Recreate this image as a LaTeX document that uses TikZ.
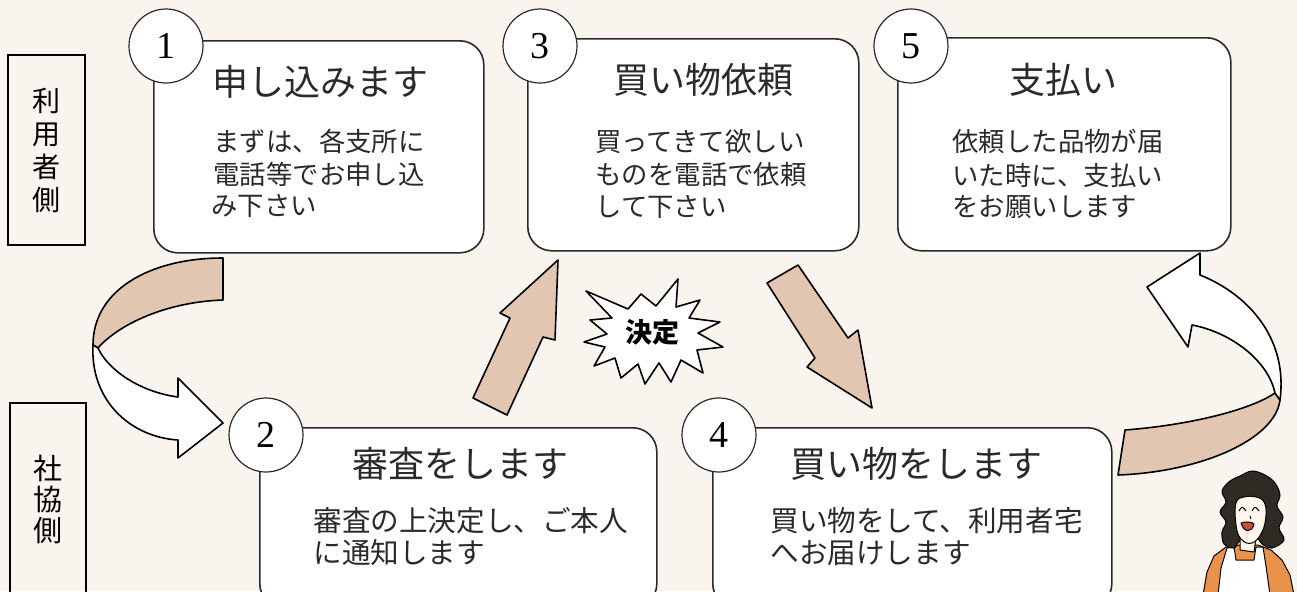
\documentclass[tikz,border=0pt]{standalone}
\usepackage{fontspec}
\newfontfamily\jp{Noto Sans CJK JP}
\newfontfamily\digitfont{Liberation Serif}
\definecolor{paper}{HTML}{FAF4EF}
\definecolor{ribbontan}{HTML}{E2C6B1}
\definecolor{ink}{HTML}{2A2A2A}
\definecolor{hair}{HTML}{2F2A24}
\definecolor{skin}{HTML}{FFF7EE}
\definecolor{shirt}{HTML}{E8924A}
\definecolor{mouth}{HTML}{C4503A}

\tikzset{
  stepbox/.style={draw=ink, line width=0.8pt, fill=white, rounded corners=12pt,
    anchor=north west, inner sep=0},
  numcircle/.style={circle, draw=ink, line width=0.6pt, fill=white,
    minimum size=37pt, inner sep=0, font=\digitfont\fontsize{19}{19}\selectfont},
  sidebox/.style={draw=black, line width=0.9pt, inner sep=0, align=center,
    font=\jp\fontsize{14}{16.5}\selectfont},
  titletext/.style={font=\jp\fontsize{18}{18}\selectfont, text=ink, inner sep=0},
  bodytop/.style={font=\jp\fontsize{13.2}{13.2}\selectfont, text=ink, inner sep=0, anchor=west},
  bodybot/.style={font=\jp\fontsize{14.3}{14.3}\selectfont, text=ink, inner sep=0, anchor=west},
  ribbon/.style={draw=black, line width=0.8pt, line join=round},
  figline/.style={draw=black, line width=0.5pt, line join=round},
}

\begin{document}
\begin{tikzpicture}[x=0.5pt,y=-0.5pt]
\useasboundingbox (0,0) rectangle (1297,591);
\clip (0,0) rectangle (1297,591);
\fill[paper] (0,0) rectangle (1297,591);

% side labels
\node[sidebox, minimum width=38.5pt, minimum height=95pt] (userside) at (46.5,150) {利\\用\\者\\側};
\node[sidebox, minimum width=38pt, minimum height=96pt,
      font=\jp\fontsize{14.5}{15.5}\selectfont] (staffside) at (48,499) {社\\協\\側};

% twisted arrow from step 1 down to step 2
\draw[ribbon, fill=ribbontan] (223,258) .. controls (150,258) and (93,290) .. (93,345)
  -- (98,348) .. controls (118,325) and (165,302) .. (223,300) -- cycle;
\draw[ribbon, fill=white] (93,345) .. controls (90,400) and (130,437) .. (178,440)
  -- (178,458) -- (223,423) -- (178,378) -- (178,397)
  .. controls (140,392) and (108,370) .. (98,348) -- cycle;

% twisted arrow from step 4 up to step 5
\draw[ribbon, fill=ribbontan] (1125,430) .. controls (1190,425) and (1250,410) .. (1275,393)
  -- (1280,400) .. controls (1275,440) and (1200,472) .. (1118,475) -- cycle;
\draw[ribbon, fill=white] (1280,400) .. controls (1288,340) and (1250,295) .. (1200,275)
  -- (1200,253) -- (1147,287) -- (1188,347) -- (1192,325)
  .. controls (1230,332) and (1268,360) .. (1275,393) -- cycle;

% straight arrows 2 -> 3 and 3 -> 4
\draw[ribbon, fill=ribbontan] (558,260) -- (500,313) -- (510,318) -- (473,398)
  -- (507,415) -- (543,337) -- (555,340) -- cycle;
\draw[ribbon, fill=ribbontan] (767,283) -- (798,265) -- (848,338) -- (858,330)
  -- (872,408) -- (807,367) -- (815,358) -- cycle;

% step boxes
\node[stepbox, minimum width=165pt, minimum height=106pt] (apply) at (153,40) {};
\node[stepbox, minimum width=165.5pt, minimum height=106pt] (order) at (527,38) {};
\node[stepbox, minimum width=166.5pt, minimum height=106.5pt] (pay) at (897,37) {};
\node[stepbox, minimum width=198.5pt, minimum height=90pt] (review) at (259,427) {};
\node[stepbox, minimum width=199.5pt, minimum height=90pt] (shop) at (712,427) {};

% step numbers
\node[numcircle] (n1) at (166,46) {1};
\node[numcircle] (n3) at (540,46) {3};
\node[numcircle] (n5) at (911,46) {5};
\node[numcircle] (n2) at (266,435) {2};
\node[numcircle] (n4) at (719,435) {4};

% titles
\node[titletext] (t1) at (320,82) {申し込みます};
\node[titletext] (t3) at (703,80) {買い物依頼};
\node[titletext] (t5) at (1063,80) {支払い};
\node[titletext] (t2) at (460,464) {審査をします};
\node[titletext] (t4) at (916,464) {買い物をします};

% descriptions
\node[bodytop] (d1a) at (213,141) {まずは、各支所に};
\node[bodytop] (d1b) at (213,174) {電話等でお申し込};
\node[bodytop] (d1c) at (211,206) {み下さい};
\node[bodytop] (d3a) at (595,141) {買ってきて欲しい};
\node[bodytop] (d3b) at (595,175) {ものを電話で依頼};
\node[bodytop] (d3c) at (595,207) {して下さい};
\node[bodytop] (d5a) at (952,141) {依頼した品物が届};
\node[bodytop] (d5b) at (952,175) {いた時に、支払い};
\node[bodytop] (d5c) at (952,207) {をお願いします};
\node[bodybot] (d2a) at (313,521) {審査の上決定し、ご本人};
\node[bodybot] (d2b) at (313,553) {に通知します};
\node[bodybot] (d4a) at (770,521) {買い物をして、利用者宅};
\node[bodybot] (d4b) at (770,553) {へお届けします};

% starburst
\draw[ribbon, fill=white] (586,291) -- (628,309) -- (641,294) -- (656,306) -- (678,279)
  -- (676,307) -- (700,300) -- (689,318) -- (720,322) -- (698,333) -- (723,347)
  -- (697,350) -- (703,373) -- (681,360) -- (671,382) -- (659,363) -- (645,384)
  -- (638,364) -- (621,378) -- (615,358) -- (594,366) -- (605,347) -- (584,342)
  -- (607,334) -- (590,320) -- (612,318) -- cycle;
\node[font=\jp\bfseries\fontsize{13.5}{13.5}\selectfont, inner sep=0] (decided) at (652,332) {決定};

% helper figure
\draw[figline, fill=shirt] (1203,595) -- (1207,572) -- (1214,556) -- (1226,547)
  -- (1240,545) -- (1258,545) -- (1271,550) -- (1282,560) -- (1290,575) -- (1294,595) -- cycle;
\draw[figline, fill=white] (1218,595) -- (1221,568) -- (1227,548) -- (1234,547)
  -- (1236,560) -- (1254,560) -- (1256,547) -- (1263,547) -- (1266,566) -- (1270,595) -- cycle;
\draw[figline, fill=hair] plot[smooth cycle, tension=0.6] coordinates {
  (1240,476) (1252,471) (1265,475) (1275,483) (1280,495) (1277,506) (1283,517)
  (1279,528) (1284,540) (1272,548) (1262,544) (1256,538) (1240,541) (1234,548)
  (1224,544) (1222,532) (1226,522) (1220,512) (1226,502) (1222,491) (1230,481)};
\draw[figline, fill=skin] (1240,536) -- (1240,550) -- (1254,552) -- (1256,538) -- cycle;
\draw[figline, fill=skin] plot[smooth cycle, tension=0.7] coordinates {
  (1236,503) (1244,497) (1256,497) (1264,502) (1266,515) (1262,532) (1252,543)
  (1241,539) (1236,525)};
\draw[figline] (1239,511) .. controls (1242,506) .. (1246,511);
\draw[figline] (1252,511) .. controls (1255,506) .. (1259,511);
\draw[figline] (1250,516) -- (1251,519);
\draw[figline, fill=mouth] (1241,523) .. controls (1247,521) and (1252,522) .. (1254,524)
  .. controls (1252,533) and (1244,533) .. (1241,523) -- cycle;
\end{tikzpicture}
\end{document}
